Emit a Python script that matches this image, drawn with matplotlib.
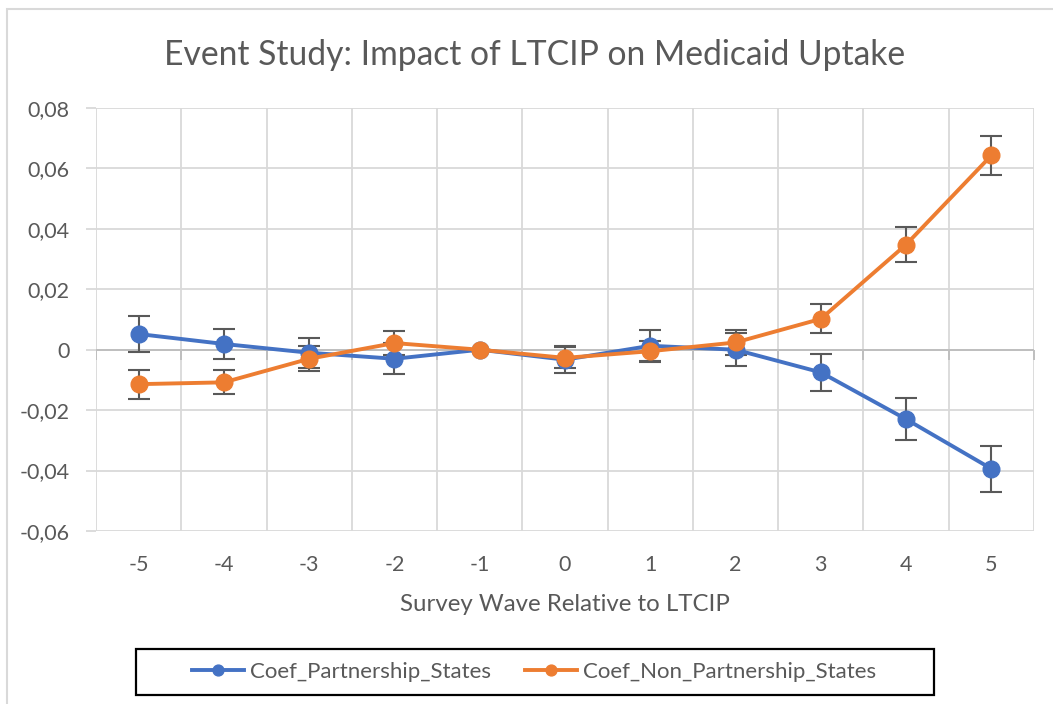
import matplotlib.pyplot as plt
from matplotlib.patches import Rectangle
from matplotlib.ticker import FuncFormatter, FixedLocator

# ---- data ----
waves = [-5, -4, -3, -2, -1, 0, 1, 2, 3, 4, 5]
coef_partner = [0.0052, 0.0019, -0.0010, -0.0030, 0.0, -0.0033, 0.0013, 0.0000, -0.0075, -0.0230, -0.0394]
err_partner = [0.0060, 0.0050, 0.0050, 0.0052, 0.0, 0.0045, 0.0052, 0.0055, 0.0060, 0.0070, 0.0076]
coef_nonpartner = [-0.0114, -0.0108, -0.0030, 0.0022, 0.0, -0.0027, -0.0005, 0.0024, 0.0102, 0.0348, 0.0643]
err_nonpartner = [0.0048, 0.0040, 0.0042, 0.0041, 0.0, 0.0035, 0.0035, 0.0040, 0.0048, 0.0058, 0.0065]
y_ticks = [-0.06, -0.04, -0.02, 0.0, 0.02, 0.04, 0.06, 0.08]

BLUE = "#4472C4"
ORANGE = "#ED7D31"
GRID = "#D9D9D9"
TEXT = "#595959"
ERR = "#595959"

plt.rcParams["font.family"] = ["Lato", "DejaVu Sans"]

fig = plt.figure(figsize=(10.53, 7.04), dpi=100)
ax = fig.add_axes([96 / 1053, 1 - 531 / 704, (1034 - 96) / 1053, (531 - 108) / 704])

# outer chart border (light grey, cut off at right/bottom like the reference)
fig.patches.append(Rectangle((7 / 1053, -0.1), 1.2, 1.1 - 9 / 704, transform=fig.transFigure,
                             fill=False, edgecolor=GRID, lw=1.5, zorder=0))

# error bars first, then lines with markers on top
ax.errorbar(waves, coef_partner, yerr=err_partner, fmt="none", ecolor=ERR,
            elinewidth=1.5, capsize=8, capthick=1.5, zorder=3)
ax.errorbar(waves, coef_nonpartner, yerr=err_nonpartner, fmt="none", ecolor=ERR,
            elinewidth=1.5, capsize=8, capthick=1.5, zorder=3)
ax.plot(waves, coef_partner, color=BLUE, lw=2.8, marker="o", markersize=12,
        label="Coef_Partnership_States", zorder=4)
ax.plot(waves, coef_nonpartner, color=ORANGE, lw=2.8, marker="o", markersize=12,
        label="Coef_Non_Partnership_States", zorder=5)

ax.set_xlim(waves[0] - 0.5, waves[-1] + 0.5)
ax.set_ylim(y_ticks[0], y_ticks[-1])

# gridlines: horizontal at y ticks, vertical at category boundaries
ax.set_yticks(y_ticks)
ax.yaxis.set_major_formatter(FuncFormatter(lambda v, p: "0" if abs(v) < 1e-9 else f"{v:.2f}".replace(".", ",")))
ax.set_xticks(waves)
ax.set_xticklabels([str(w) for w in waves])
bounds = [w - 0.5 for w in waves] + [waves[-1] + 0.5]
ax.xaxis.set_minor_locator(FixedLocator(bounds))
ax.grid(True, which="major", axis="y", color=GRID, lw=1.3, zorder=0)
ax.grid(True, which="minor", axis="x", color=GRID, lw=1.3, zorder=0)
ax.set_axisbelow(True)

# zero axis line with tick marks down at category boundaries
ax.axhline(0, color="#BFBFBF", lw=1.4, zorder=1)
ax.plot(bounds, [0] * len(bounds), ls="none", marker=3, markersize=7,
        markeredgecolor="#BFBFBF", markeredgewidth=1.4, zorder=1)

for s in ax.spines.values():
    s.set_visible(False)
ax.tick_params(axis="y", which="major", length=7, color=GRID, width=1.3, pad=12,
               labelsize=15.5, labelcolor=TEXT)
ax.tick_params(axis="x", which="major", length=0, pad=17, labelsize=15.5, labelcolor=TEXT)
ax.tick_params(axis="x", which="minor", length=0)

ax.set_xlabel("Survey Wave Relative to LTCIP", fontsize=17.3, color=TEXT, labelpad=14)
fig.text(535 / 1053, 1 - 65 / 704, "Event Study: Impact of LTCIP on Medicaid Uptake",
         ha="center", va="baseline", fontsize=24.2, color=TEXT)

# legend with its own black box
leg = fig.legend(loc="center", bbox_to_anchor=(534 / 1053, 1 - 672 / 704), ncol=2,
                 frameon=False, fontsize=16, labelcolor=TEXT, handlelength=2.35,
                 handletextpad=0.28, columnspacing=1.5, markerscale=0.65)
fig.patches.append(Rectangle((136 / 1053, 1 - 695 / 704), (934 - 136) / 1053, (695 - 649) / 704,
                             transform=fig.transFigure, fill=False, edgecolor="black", lw=1.6))

fig.savefig("out.png", dpi=100)
